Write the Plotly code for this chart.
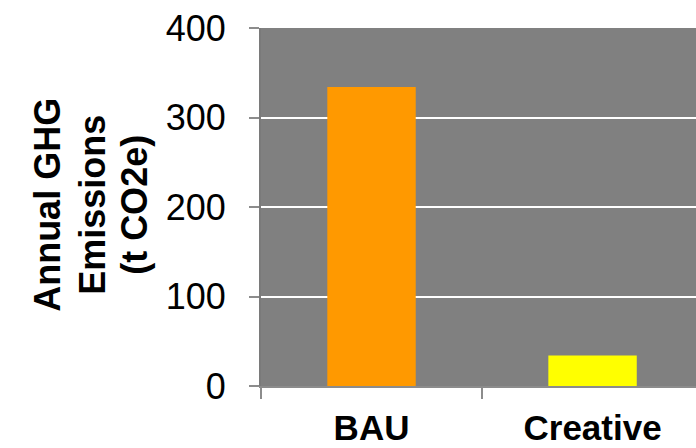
import plotly.graph_objects as go

categories = ["BAU", "Creative"]
values = [334, 34]
bar_colors = ["#FF9900", "#FFFF00"]
title_lines = ["Annual GHG", "Emissions", "(t CO2e)"]
y_ticks = [0, 100, 200, 300, 400]

FONT = "Liberation Sans, Arial, sans-serif"

fig = go.Figure()
fig.add_trace(go.Bar(x=categories, y=values, marker=dict(color=bar_colors, line=dict(width=0)),
                     width=0.4, showlegend=False))

fig.update_layout(
    width=696, height=448,
    margin=dict(l=261, r=0, t=28, b=62),
    paper_bgcolor="white",
    plot_bgcolor="#808080",
    font=dict(family=FONT, size=36, color="black"),
    xaxis=dict(
        type="category", range=[-0.5, 1.468], automargin=False,
        tickson="boundaries", ticks="outside", ticklen=11, tickwidth=2, tickcolor="#8c8c8c",
        showline=True, linecolor="#8c8c8c", linewidth=2,
        showgrid=False,
        tickfont=dict(family=FONT, size=35, color="black", weight="bold"),
        ticklabelstandoff=10,
    ),
    yaxis=dict(
        range=[0, 400], tickvals=y_ticks, ticks="outside", ticklen=10, tickwidth=2,
        automargin=False,
        tickcolor="#8c8c8c", showline=True, linecolor="#7a7a7a", linewidth=2,
        showgrid=True, gridcolor="white", gridwidth=2, zeroline=False,
        tickfont=dict(family=FONT, size=36, color="black"),
        ticklabelstandoff=16,
    ),
    xaxis2=dict(overlaying="x", side="top", showline=True, linecolor="#b4b4b4", linewidth=2,
                automargin=False,
                showticklabels=False, ticks="", showgrid=False, range=[0, 1]),
)

x_shifts = [-213, -168, -126]
for line, xs in zip(title_lines, x_shifts):
    fig.add_annotation(text=f"<b>{line}</b>", x=0, y=0.506, xref="paper", yref="paper",
                       xshift=xs, textangle=-90, showarrow=False, xanchor="center", yanchor="middle",
                       font=dict(family=FONT, size=36, color="black"))

fig.write_html("out.html")
